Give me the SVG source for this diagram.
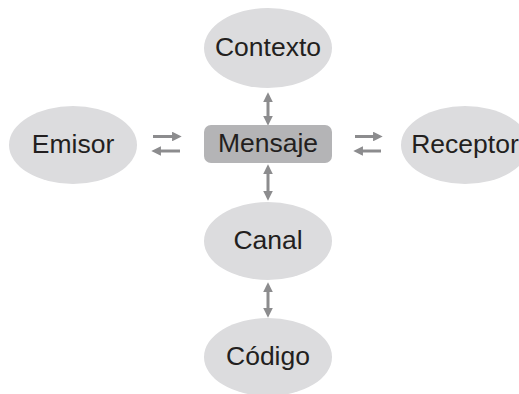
<svg xmlns="http://www.w3.org/2000/svg" width="519" height="394" viewBox="0 0 519 394">
<style>
.n{fill:#dcdcde}
.m{fill:#b4b4b6}
.t{font-family:"Liberation Sans",Arial,sans-serif;font-size:26.5px;fill:#231f20;text-anchor:middle;dominant-baseline:central}
.c{stroke:#8c8c8e;stroke-width:3;fill:none}
</style>
<defs>
<marker id="ah" viewBox="0 0 10 10" refX="2" refY="5" markerWidth="3.4" markerHeight="3.2" markerUnits="strokeWidth" orient="auto-start-reverse">
<path d="M0,0 L10,5 L0,10 Z" fill="#8c8c8e"/>
</marker>
</defs>
<rect width="519" height="394" fill="#fff"/>
<g id="connectors">
<line class="c" x1="268" y1="100" x2="268" y2="118" marker-start="url(#ah)" marker-end="url(#ah)"/>
<line class="c" x1="268" y1="172" x2="268" y2="193" marker-start="url(#ah)" marker-end="url(#ah)"/>
<line class="c" x1="268" y1="290" x2="268" y2="310" marker-start="url(#ah)" marker-end="url(#ah)"/>
<line class="c" x1="153" y1="136.5" x2="174" y2="136.5" marker-end="url(#ah)"/>
<line class="c" x1="180" y1="151" x2="159" y2="151" marker-end="url(#ah)"/>
<line class="c" x1="355" y1="136.5" x2="375" y2="136.5" marker-end="url(#ah)"/>
<line class="c" x1="381" y1="151" x2="361" y2="151" marker-end="url(#ah)"/>
</g>
<g id="contexto"><ellipse class="n" cx="268" cy="48" rx="64" ry="40"/><text class="t" x="268" y="47">Contexto</text></g>
<g id="emisor"><ellipse class="n" cx="73" cy="145" rx="64" ry="39"/><text class="t" x="73" y="144">Emisor</text></g>
<g id="mensaje"><rect class="m" x="204" y="125" width="128" height="38" rx="7"/><text class="t" x="268" y="143">Mensaje</text></g>
<g id="receptor"><ellipse class="n" cx="465" cy="145" rx="64" ry="39"/><text class="t" x="465" y="144">Receptor</text></g>
<g id="canal"><ellipse class="n" cx="268" cy="241" rx="64" ry="39"/><text class="t" x="268" y="240">Canal</text></g>
<g id="codigo"><ellipse class="n" cx="268" cy="357" rx="64" ry="39"/><text class="t" x="268" y="356">Código</text></g>
</svg>
